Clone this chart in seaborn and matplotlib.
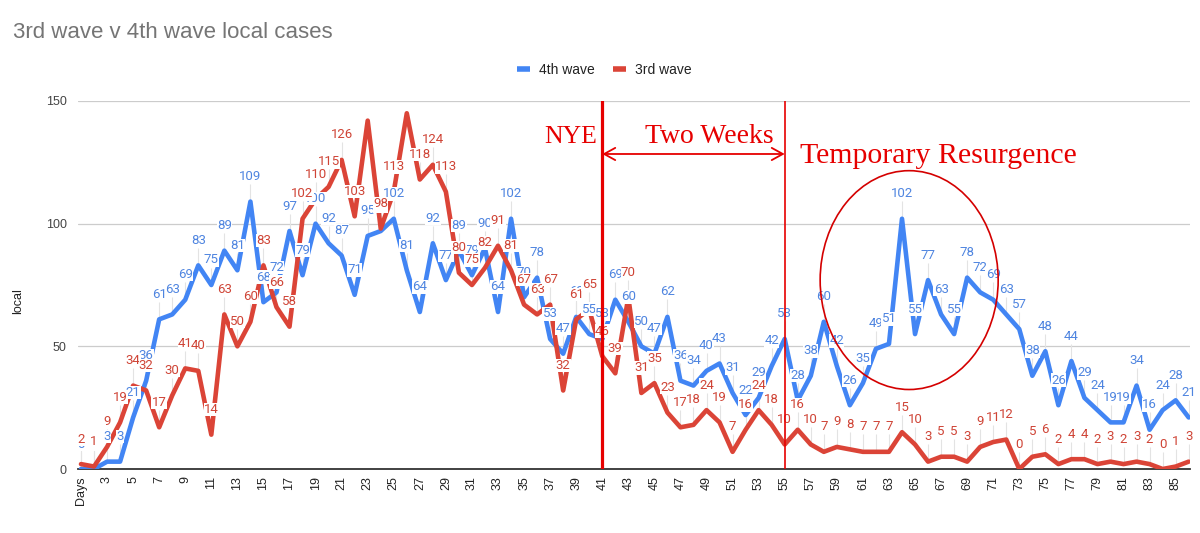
import numpy as np
import pandas as pd
import matplotlib
matplotlib.use("Agg")
import matplotlib.pyplot as plt
from matplotlib.patches import Ellipse
import seaborn as sns

# ---------------- data ----------------
days = list(range(1, 87))
tick_days = list(range(1, 86, 2))
tick_labels = ["Days"] + [str(d) for d in tick_days[1:]]

wave4 = [0, 0, 3, 3, 21, 36, 61, 63, 69, 83, 75, 89, 81, 109, 68, 72, 97, 79, 100, 92,
         87, 71, 95, 97, 102, 81, 64, 92, 77, 89, 79, 90, 64, 102, 70, 78, 53, 47, 62, 55,
         53, 69, 60, 50, 47, 62, 36, 34, 40, 43, 31, 22, 29, 42, 53, 28, 38, 60, 42, 26,
         35, 49, 51, 102, 55, 77, 63, 55, 78, 72, 69, 63, 57, 38, 48, 26, 44, 29, 24, 19,
         19, 34, 16, 24, 28, 21]
wave3 = [2, 1, 9, 19, 34, 32, 17, 30, 41, 40, 14, 63, 50, 60, 83, 66, 58, 102, 110, 115,
         126, 103, 142, 98, 113, 145, 118, 124, 113, 80, 75, 82, 91, 81, 67, 63, 67, 32, 61, 65,
         46, 39, 70, 31, 35, 23, 17, 18, 24, 19, 7, 16, 24, 18, 10, 16, 10, 7, 9, 8,
         7, 7, 7, 15, 10, 3, 5, 5, 3, 9, 11, 12, 0, 5, 6, 2, 4, 4, 2, 3,
         2, 3, 2, 0, 1, 3]
series_names = ["4th wave", "3rd wave"]
yticks = [0, 50, 100, 150]

title = "3rd wave v 4th wave local cases"
ylabel = "local"
nye_day = 41
two_weeks_day = 55

# ---------------- style ----------------
sns.set_style("white")
plt.rcParams["font.family"] = ["Liberation Sans", "DejaVu Sans"]

BLUE = "#4285F4"
RED = "#DB4437"
BLUE_TXT = "#4f85e0"
RED_TXT = "#cf4436"
ANN = "#e60000"

df = pd.DataFrame({
    "day": days * 2,
    "cases": wave4 + wave3,
    "wave": [series_names[0]] * len(days) + [series_names[1]] * len(days),
})

fig = plt.figure(figsize=(12, 5.33), dpi=100)
ax = fig.add_axes([78 / 1200, 1 - 469 / 533, 1112 / 1200, 368 / 533])

sns.lineplot(data=df, x="day", y="cases", hue="wave", hue_order=series_names,
             palette=[BLUE, RED], linewidth=3.3, ax=ax, legend=True,
             solid_joinstyle="round", solid_capstyle="round", zorder=3)

ax.set_xlim(0.77, 86.1)
ax.set_ylim(0, 150)
ax.set_yticks(yticks)
ax.set_yticklabels([str(t) for t in yticks], fontsize=9, color="#444444")
ax.set_xticks(tick_days)
ax.set_xticklabels(tick_labels, rotation=90, fontsize=9, color="#222222")
ax.tick_params(axis="both", length=0)
ax.tick_params(axis="y", pad=8)
ax.tick_params(axis="x", pad=5)
ax.set_xlabel("")
ax.set_ylabel("")
for s in ["top", "right", "left"]:
    ax.spines[s].set_visible(False)
ax.spines["bottom"].set_color("#333333")
ax.spines["bottom"].set_linewidth(1.3)
ax.yaxis.grid(True, color="#cccccc", linewidth=0.9, zorder=0)
ax.set_axisbelow(True)

# data labels
label_off_units = 25 * 150 / 368  # 25 px above point in data units
for vals, col in [(wave4, BLUE_TXT), (wave3, RED_TXT)]:
    for d, v in zip(days, vals):
        if v + label_off_units > 150:
            continue
        ax.vlines(d, v, v + label_off_units * 0.7, color="#e3e3e3", lw=0.8, zorder=1)
        ax.annotate(str(v), (d, v), xytext=(0, 18), textcoords="offset points",
                    ha="center", va="center", fontsize=9.5, color=col,
                    family=["Roboto", "DejaVu Sans"],
                    bbox=dict(boxstyle="square,pad=0.02", fc="white", ec="none"),
                    zorder=5)

# annotations
ax.axvline(nye_day, color=ANN, lw=2.3, zorder=6)
ax.axvline(two_weeks_day, color=ANN, lw=1.2, zorder=6)
ax.annotate("", xy=(nye_day, 128.4), xytext=(two_weeks_day, 128.4),
            arrowprops=dict(arrowstyle="<->,head_length=0.4,head_width=0.22",
                            color=ANN, lw=1.3, shrinkA=0, shrinkB=0,
                            mutation_scale=20), zorder=6)
serif = ["Liberation Serif", "DejaVu Serif"]
ax.text(40.6, 132.8, "NYE", ha="right", va="baseline", fontsize=18.5, color=ANN,
        family=serif, zorder=7)
ax.text(49.2, 132.8, "Two Weeks", ha="center", va="baseline", fontsize=20,
        color=ANN, family=serif, zorder=7)
ax.text(66.8, 124.7, "Temporary Resurgence", ha="center", va="baseline",
        fontsize=21.5, color=ANN, family=serif, zorder=7)
ax.add_patch(Ellipse((64.55, 77.0), width=13.66, height=89.2, fill=False,
                     edgecolor="#d40000", lw=1.2, zorder=6))

# legend
leg = ax.legend(loc="center", bbox_to_anchor=(604 / 1200, 1 - 70 / 533),
                bbox_transform=fig.transFigure, ncol=2, frameon=False,
                handlelength=1.0, handletextpad=0.6, columnspacing=1.3,
                fontsize=10)
for t in leg.get_texts():
    t.set_color("#222222")
for h in leg.get_lines():
    h.set_linewidth(4)
    h.set_solid_capstyle("butt")

fig.text(13 / 1200, 1 - 33 / 533, title, ha="left", va="center", fontsize=16,
         color="#757575")
fig.text(18 / 1200, 1 - 301 / 533, ylabel, rotation=90, ha="center", va="center",
         fontsize=9, color="#222222")

fig.savefig("out.png", dpi=100, facecolor="white")
